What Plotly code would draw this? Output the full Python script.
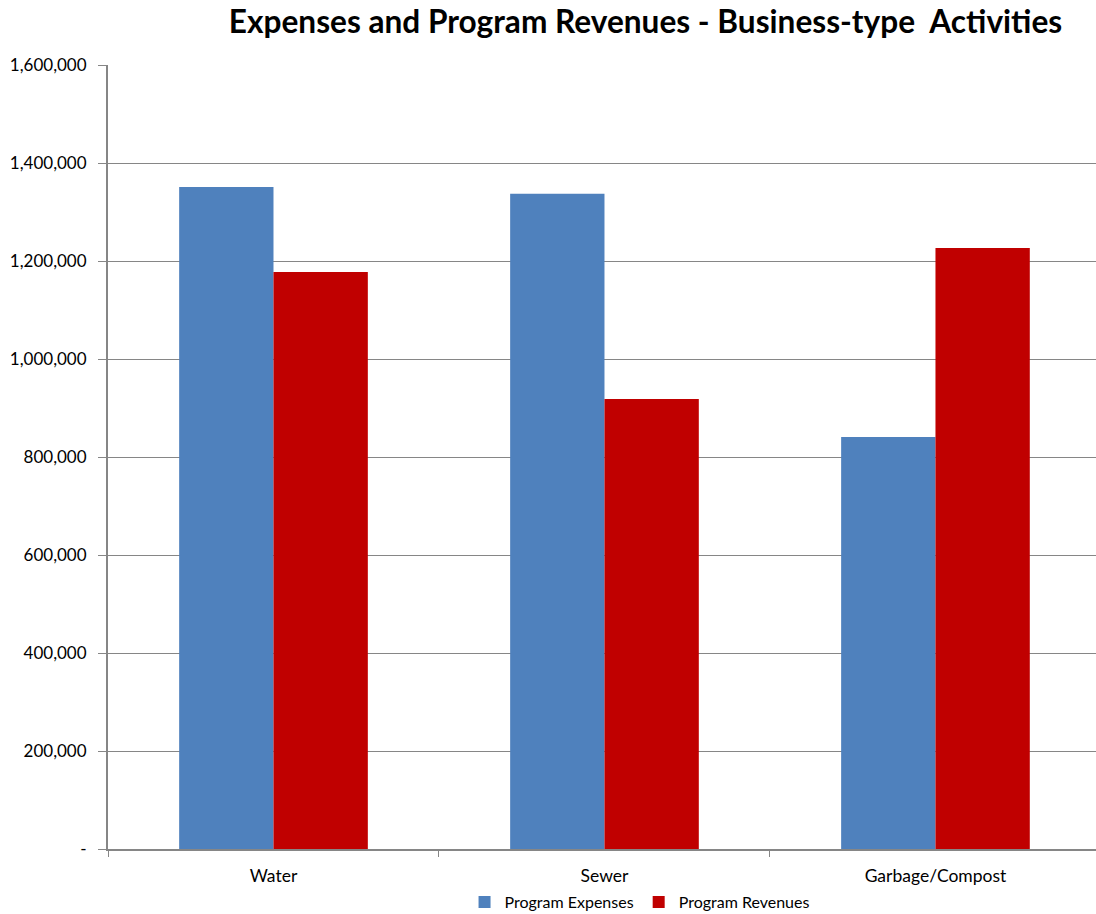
import plotly.graph_objects as go

categories = ["Water", "Sewer", "Garbage/Compost"]
program_expenses = [1351000, 1337000, 841000]
program_revenues = [1177500, 918500, 1226500]
y_tickvals = [0, 200000, 400000, 600000, 800000, 1000000, 1200000, 1400000, 1600000]
y_ticktext = ["-", "200,000", "400,000", "600,000", "800,000", "1,000,000", "1,200,000", "1,400,000", "1,600,000"]

fig = go.Figure()
fig.add_trace(go.Bar(name="Program Expenses", x=categories, y=program_expenses,
                     marker=dict(color="#4F81BD", line=dict(width=0))))
fig.add_trace(go.Bar(name="Program Revenues", x=categories, y=program_revenues,
                     marker=dict(color="#C00000", line=dict(width=0))))

fig.update_layout(
    width=1096, height=914,
    margin=dict(l=108, r=0, t=65, b=65, autoexpand=False),
    paper_bgcolor="white", plot_bgcolor="white",
    font=dict(family="Lato, Carlito, sans-serif", color="#000000"),
    barmode="group", bargap=0.43, bargroupgap=0,
    title=dict(text="<b>Expenses and Program Revenues - Business-type  Activities</b>",
               x=0.589, xanchor="center", y=0.976, yanchor="middle",
               font=dict(size=31.6, family="Lato, Carlito, sans-serif", color="#000000")),
    legend=dict(orientation="h", x=0.538, xanchor="center",
                yref="container", y=0.0131, yanchor="middle",
                font=dict(size=16), itemwidth=30, traceorder="normal"),
    showlegend=True,
)
fig.update_xaxes(
    range=[-0.5, 2.485], showline=True, linecolor="#868686", linewidth=2,
    ticks="outside", tickson="boundaries", ticklen=6, tickcolor="#868686",
    tickfont=dict(size=17.5), showgrid=False, fixedrange=True, ticklabelstandoff=10,
)
fig.update_yaxes(
    range=[0, 1600000], tickvals=y_tickvals, ticktext=y_ticktext,
    showline=True, linecolor="#868686", linewidth=2,
    ticks="outside", ticklen=8, tickcolor="#868686",
    showgrid=True, gridcolor="#868686", gridwidth=1,
    tickfont=dict(size=17), zeroline=False, ticklabelstandoff=8, fixedrange=True,
)

fig.write_html("out.html", config={"displayModeBar": False},
               post_script="document.body.style.margin='0';document.body.style.overflow='hidden';")
